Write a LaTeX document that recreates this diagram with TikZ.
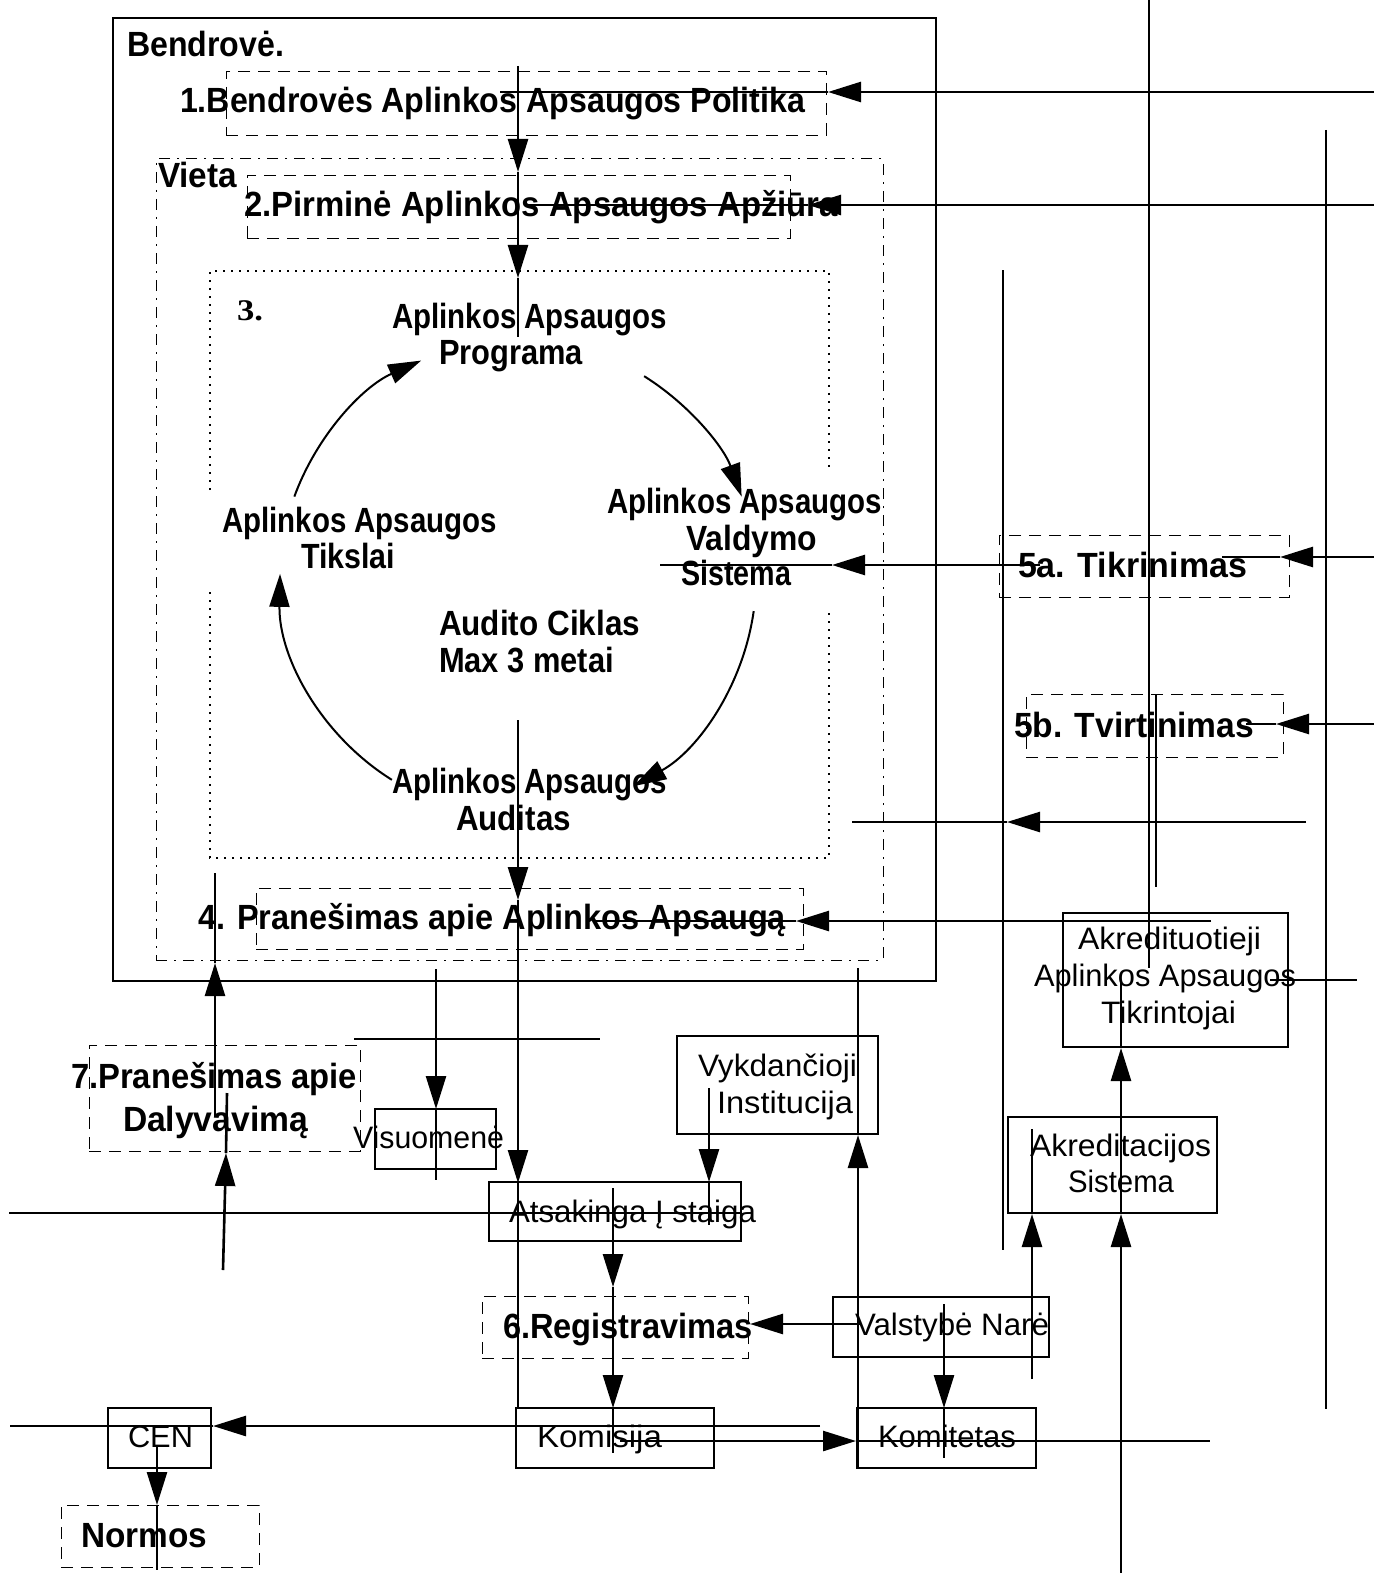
\documentclass[tikz,border=0pt]{standalone}
\usepackage{fontspec}
\setmainfont{Liberation Sans}
\newfontfamily\numserif{Liberation Serif}
\usepackage{graphicx}
\usetikzlibrary{arrows.meta,fit,calc}

% one drawing unit = 0.5pt
\newlength\pu
\setlength\pu{0.5pt}
% set a label to a given width, keeping its natural height
\newcommand\wlabel[2]{\resizebox{#1\pu}{\height}{#2}}

\tikzset{
  lbl/.style={anchor=base west, inner sep=0pt, outer sep=0pt},
  boldlbl/.style={lbl, font=\fontsize{17.5}{19}\selectfont\bfseries},
  plainlbl/.style={lbl, font=\fontsize{15.5}{17}\selectfont},
  solidbox/.style={draw, line width=1.3pt, inner sep=0pt, outer sep=0pt},
  dashbox/.style={draw, line width=0.45pt, dash pattern=on 6pt off 4pt, inner sep=0pt, outer sep=0pt},
  siteframe/.style={draw, line width=0.5pt, dash pattern=on 5.5pt off 3.5pt on 1pt off 3.5pt, inner sep=0pt, outer sep=0pt},
  dotframe/.style={line width=0.6pt, dash pattern=on 0.8pt off 3.2pt},
  flow/.style={line width=1.3pt},
  cycline/.style={line width=1pt},
  head/.style={-{Triangle[length=16.5pt,width=10pt]}},
}

\begin{document}
\begin{tikzpicture}[x=0.5pt,y=-0.5pt]
\useasboundingbox (0,0) rectangle (1374,1573);
\fill[white] (0,0) rectangle (1374,1573);

% ---------------- frames ----------------
\node[solidbox, fit={(113,18)(936,981)}] (bendrove) {};
\node[dashbox, fit={(226,71)(826,135)}] (politika) {};
\node[siteframe, fit={(156,159)(883,960)}] (vieta) {};
\node[dashbox, fit={(247,175)(790,238)}] (apziura) {};
\node[dashbox, fit={(256,888)(803,949)}] (pranesimas) {};
% programme frame, broken where the side labels sit
\draw[dotframe] (210,490) -- (210,271) -- (829,271) -- (829,470);
\draw[dotframe] (829,613) -- (829,858) -- (210,858) -- (210,590);

\node[dashbox, fit={(999,535)(1289,597)}] (tikrinimas) {};
\node[dashbox, fit={(1026,694)(1283,757)}] (tvirtinimas) {};
\node[solidbox, fit={(1063,913)(1288,1047)}] (tikrintojai) {};
\node[solidbox, fit={(1008,1117)(1217,1213)}] (akreditacija) {};
\node[dashbox, fit={(89,1045)(360,1151)}] (dalyvavimas) {};
\node[solidbox, fit={(375,1109)(496,1169)}] (visuomene) {};
\node[solidbox, fit={(677,1036)(878,1134)}] (vykdancioji) {};
\node[solidbox, fit={(489,1182)(741,1241)}] (istaiga) {};
\node[dashbox, fit={(482,1296)(748,1358)}] (registravimas) {};
\node[solidbox, fit={(833,1297)(1049,1357)}] (valstybe) {};
\node[solidbox, fit={(516,1408)(714,1468)}] (komisija) {};
\node[solidbox, fit={(857,1408)(1036,1468)}] (komitetas) {};
\node[solidbox, fit={(108,1408)(211,1468)}] (cen) {};
\node[dashbox, fit={(61,1505)(259,1567)}] (normos) {};

% ---------------- labels ----------------
\node[boldlbl] (tBendrove) at (127,57) {\wlabel{157}{Bendrovė.}};
\node[boldlbl] (tPolitika) at (180,113) {\wlabel{625}{1.Bendrovės Aplinkos Apsaugos Politika}};
\node[boldlbl] (tVieta) at (158,188) {\wlabel{79}{Vieta}};
\node[boldlbl] (tApziura) at (244,217) {\wlabel{594}{2.Pirminė Aplinkos Apsaugos Apžiūra}};
\node[lbl, font=\fontsize{15}{17}\selectfont\numserif\bfseries] (tTrys) at (237,320) {\wlabel{26}{3.}};

\node[boldlbl] (tProgA) at (392,328) {\wlabel{275}{Aplinkos Apsaugos}};
\node[boldlbl] (tProgB) at (439,364) {\wlabel{144}{Programa}};
\node[boldlbl] (tValdA) at (607,513) {\wlabel{275}{Aplinkos Apsaugos}};
\node[boldlbl] (tValdB) at (686,550) {\wlabel{131}{Valdymo}};
\node[boldlbl] (tValdC) at (681,585) {\wlabel{110}{Sistema}};
\node[boldlbl] (tTiksA) at (222,532) {\wlabel{275}{Aplinkos Apsaugos}};
\node[boldlbl] (tTiksB) at (301,568) {\wlabel{94}{Tikslai}};
\node[boldlbl] (tCiklA) at (439,635) {\wlabel{201}{Audito Ciklas}};
\node[boldlbl] (tCiklB) at (439,672) {\wlabel{175}{Max 3 metai}};
\node[boldlbl] (tAudA) at (392,793) {\wlabel{275}{Aplinkos Apsaugos}};
\node[boldlbl] (tAudB) at (456,830) {\wlabel{115}{Auditas}};
\node[boldlbl] (tPranesimas) at (198,929) {\wlabel{588}{4. Pranešimas apie Aplinkos Apsaugą}};

\node[boldlbl] (tTikrinimas) at (1018,577) {\wlabel{229}{5a. Tikrinimas}};
\node[boldlbl] (tTvirtinimas) at (1014,737) {\wlabel{240}{5b. Tvirtinimas}};
\node[plainlbl] (tTikrA) at (1078,949) {\wlabel{183}{Akredituotieji}};
\node[plainlbl] (tTikrB) at (1034,986) {\wlabel{262}{Aplinkos Apsaugos}};
\node[plainlbl] (tTikrC) at (1101,1023) {\wlabel{135}{Tikrintojai}};
\node[plainlbl] (tAkrA) at (1030,1156) {\wlabel{181}{Akreditacijos}};
\node[plainlbl] (tAkrB) at (1068,1192) {\wlabel{106}{Sistema}};

\node[boldlbl] (tDalA) at (71,1088) {\wlabel{286}{7.Pranešimas apie}};
\node[boldlbl] (tDalB) at (123,1131) {\wlabel{185}{Dalyvavimą}};
\node[plainlbl] (tVisuomene) at (353,1148) {\wlabel{151}{Visuomenė}};
\node[plainlbl] (tVykdA) at (698,1076) {\wlabel{159}{Vykdančioji}};
\node[plainlbl] (tVykdB) at (717,1113) {\wlabel{136}{Institucija}};
\node[plainlbl] (tIstaiga) at (509,1222) {\wlabel{247}{Atsakinga Į staiga}};
\node[boldlbl] (tRegistravimas) at (503,1338) {\wlabel{250}{6.Registravimas}};
\node[plainlbl] (tValstybe) at (855,1335) {\wlabel{194}{Valstybė Narė}};
\node[plainlbl] (tKomisija) at (537,1447) {\wlabel{125}{Komisija}};
\node[plainlbl] (tKomitetas) at (878,1447) {\wlabel{138}{Komitetas}};
\node[plainlbl] (tCen) at (128,1447) {\wlabel{65}{CEN}};
\node[boldlbl] (tNormos) at (81,1547) {\wlabel{126}{Normos}};

% ---------------- audit cycle ----------------
\coordinate (cyc) at (518,578);
\draw[cycline,head] ($(cyc)+(200:238)$) arc[start angle=200, end angle=246, radius=238];
\draw[cycline,head] ($(cyc)+(302:238)$) arc[start angle=302, end angle=340, radius=238];
\draw[cycline,head] ($(cyc)+(8:238)$) arc[start angle=8, end angle=61, radius=238];
\draw[cycline,head] ($(cyc)+(122:238)$) arc[start angle=122, end angle=181, radius=238];

% ---------------- connectors ----------------
% central spine, upper part
\coordinate (sA) at (518,66);
\coordinate (sB) at (518,172);
\coordinate (sC) at (518,278);
\coordinate (sD) at (518,337);
\draw[flow,head] (sA) -- (sB);
\draw[flow,head] (sB) -- (sC);
\draw[flow] (sC) -- (sD);

% central spine, lower part
\coordinate (uA) at (518,720);
\coordinate (uB) at (518,900);
\coordinate (uC) at (518,1183);
\coordinate (uD) at (518,1409);
\draw[flow,head] (uA) -- (uB);
\draw[flow,head] (uB) -- (uC);
\draw[flow] (uC) -- (uD);

% inputs from the right
\coordinate (rA0) at (1374,92);  \coordinate (rA1) at (828,92);   \coordinate (rA2) at (500,92);
\draw[flow,head] (rA0) -- (rA1); \draw[flow] (rA1) -- (rA2);
\coordinate (rB0) at (1374,205); \coordinate (rB1) at (808,205);  \coordinate (rB2) at (525,205);
\draw[flow,head] (rB0) -- (rB1); \draw[flow] (rB1) -- (rB2);
\coordinate (rC0) at (1374,557); \coordinate (rC1) at (1280,557); \coordinate (rC2) at (1222,557);
\draw[flow,head] (rC0) -- (rC1); \draw[flow] (rC1) -- (rC2);
\coordinate (rD0) at (1374,724); \coordinate (rD1) at (1276,724); \coordinate (rD2) at (1246,724);
\draw[flow,head] (rD0) -- (rD1); \draw[flow] (rD1) -- (rD2);

% verification into the management system
\coordinate (vA) at (1040,565); \coordinate (vB) at (832,565); \coordinate (vC) at (660,565);
\draw[flow,head] (vA) -- (vB); \draw[flow] (vB) -- (vC);
% validation return
\coordinate (wA) at (1306,822); \coordinate (wB) at (1007,822); \coordinate (wC) at (852,822);
\draw[flow,head] (wA) -- (wB); \draw[flow] (wB) -- (wC);
% statement input
\coordinate (xA) at (1211,921); \coordinate (xB) at (796,921); \coordinate (xC) at (595,921);
\draw[flow,head] (xA) -- (xB); \draw[flow] (xB) -- (xC);
\coordinate (yA) at (1270,980); \coordinate (yB) at (1357,980);
\draw[flow] (yA) -- (yB);

% long verticals on the right
\coordinate (kA) at (1149,0);    \coordinate (kB) at (1149,968);
\draw[flow] (kA) -- (kB);
\coordinate (lA) at (1156,694);  \coordinate (lB) at (1156,887);
\draw[flow] (lA) -- (lB);
\coordinate (mA) at (1003,270);  \coordinate (mB) at (1003,1250);
\draw[flow] (mA) -- (mB);
\coordinate (nA) at (1326,130);  \coordinate (nB) at (1326,1409);
\draw[flow] (nA) -- (nB);

% accreditation chain
\coordinate (aA) at (1121,1573); \coordinate (aB) at (1121,1214);
\coordinate (aC) at (1121,1048); \coordinate (aD) at (1121,983);
\draw[flow,head] (aA) -- (aB);
\draw[flow,head] (aB) -- (aC);
\draw[flow] (aC) -- (aD);
\coordinate (bA) at (1032,1379); \coordinate (bB) at (1032,1214); \coordinate (bC) at (1032,1129);
\draw[flow,head] (bA) -- (bB); \draw[flow] (bB) -- (bC);

% member state, committee, commission
\coordinate (gA) at (944,1304);  \coordinate (gB) at (944,1408); \coordinate (gC) at (944,1458);
\draw[flow,head] (gA) -- (gB); \draw[flow] (gB) -- (gC);
\coordinate (hA) at (860,1324);  \coordinate (hB) at (750,1324);
\draw[flow,head] (hA) -- (hB);
\coordinate (jA) at (858,1468);  \coordinate (jB) at (858,1135); \coordinate (jC) at (858,968);
\draw[flow,head] (jA) -- (jB); \draw[flow] (jB) -- (jC);
\coordinate (qA) at (709,1088);  \coordinate (qB) at (709,1182); \coordinate (qC) at (709,1225);
\draw[flow,head] (qA) -- (qB); \draw[flow] (qB) -- (qC);
\coordinate (fA) at (613,1188);  \coordinate (fB) at (613,1287);
\coordinate (fC) at (613,1408);  \coordinate (fD) at (613,1453);
\draw[flow,head] (fA) -- (fB);
\draw[flow,head] (fB) -- (fC);
\draw[flow] (fC) -- (fD);

% public and participation
\coordinate (pA) at (436,969);   \coordinate (pB) at (436,1109); \coordinate (pC) at (436,1180);
\draw[flow,head] (pA) -- (pB); \draw[flow] (pB) -- (pC);
\coordinate (oA) at (354,1039);  \coordinate (oB) at (600,1039);
\draw[flow] (oA) -- (oB);
\coordinate (dA) at (215,1117);  \coordinate (dB) at (215,963); \coordinate (dC) at (215,873);
\draw[flow,head] (dA) -- (dB); \draw[flow] (dB) -- (dC);
\coordinate (eA) at (223,1270);  \coordinate (eB) at (226,1153); \coordinate (eC) at (227,1093);
\draw[flow,head] (eA) -- (eB); \draw[flow] (eB) -- (eC);
\coordinate (zA) at (9,1213);    \coordinate (zB) at (742,1213);
\draw[flow] (zA) -- (zB);

% standards
\coordinate (cA) at (820,1426);  \coordinate (cB) at (213,1426); \coordinate (cC) at (10,1426);
\draw[flow,head] (cA) -- (cB); \draw[flow] (cB) -- (cC);
\coordinate (iA) at (620,1441);  \coordinate (iB) at (856,1441); \coordinate (iC) at (1210,1441);
\draw[flow,head] (iA) -- (iB); \draw[flow] (iB) -- (iC);
\coordinate (tA) at (157,1447);  \coordinate (tB) at (157,1505); \coordinate (tC) at (157,1570);
\draw[flow,head] (tA) -- (tB); \draw[flow] (tB) -- (tC);
\end{tikzpicture}
\end{document}
